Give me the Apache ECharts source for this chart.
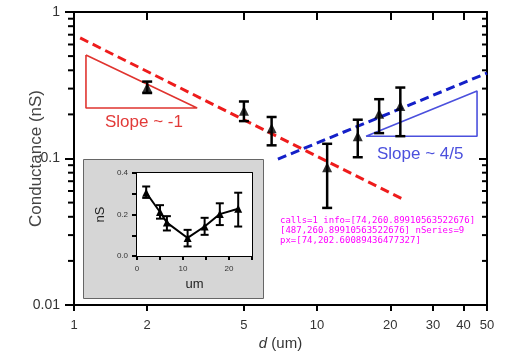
<!DOCTYPE html>
<html>
<head>
<meta charset="utf-8">
<script src="https://cdn.jsdelivr.net/npm/echarts@6/dist/echarts.min.js"></script>
<style>html,body{margin:0;padding:0;background:#fff;}#c{width:512px;height:361px;}#dbg{position:absolute;left:280px;top:215px;font:9px monospace;color:#f0f;width:200px;word-wrap:break-word;}</style>
</head>
<body>
<div id="c"></div>
<div id="dbg"></div>
<script>
var dbg = document.getElementById('dbg');
window.onerror = function(m){ dbg.textContent += ' ERR ' + m; };
// Data
var distances = [2, 5, 6.5, 11, 14.7, 18, 22];
var conductance = [0.305, 0.212, 0.161, 0.087, 0.142, 0.202, 0.228];
var errLow = [0.28, 0.18, 0.123, 0.046, 0.102, 0.149, 0.142];
var errHigh = [0.335, 0.245, 0.192, 0.126, 0.184, 0.254, 0.305];
var fitRed = [[1.06, 0.665], [22.4, 0.053]];
var fitBlue = [[6.9, 0.099], [50, 0.383]];
var triRed = [[1.12, 0.508], [1.12, 0.221], [3.21, 0.221], [1.12, 0.508]];
var triBlue = [[15.9, 0.142], [45.5, 0.142], [45.5, 0.289], [15.9, 0.142]];
var xTicksMain = [1, 2, 5, 10, 20, 30, 40, 50];
var xTicksTop = [2, 5, 10, 20, 30, 40];
var yMajor = [0.01, 0.1, 1];
var yMinor = [0.02,0.03,0.04,0.05,0.06,0.07,0.08,0.09,0.2,0.3,0.4,0.5,0.6,0.7,0.8,0.9];

var FONT = 'Liberation Sans, Arial, Helvetica, sans-serif';
var chart = echarts.init(document.getElementById('c'), null, {renderer: 'canvas'});

var mainPts = distances.map(function(d, i){ return [d, conductance[i]]; });
var errData = distances.map(function(d, i){ return [d, errLow[i], errHigh[i]]; });
var calls = 0, info = '';

function errRender(cap, lw){
  return function(params, api){
    var x = api.value(0);
    var lo = api.coord([x, api.value(1)]);
    var hi = api.coord([x, api.value(2)]);
    var st = {stroke: '#000', lineWidth: lw};
    return {type: 'group', children: [
      {type: 'line', shape: {x1: lo[0], y1: lo[1], x2: hi[0], y2: hi[1]}, style: st},
      {type: 'line', shape: {x1: lo[0]-cap, y1: lo[1], x2: lo[0]+cap, y2: lo[1]}, style: st},
      {type: 'line', shape: {x1: hi[0]-cap, y1: hi[1], x2: hi[0]+cap, y2: hi[1]}, style: st}
    ]};
  };
}
function minorTickRender(params, api){
  calls++;
  var kids = [];
  yMinor.forEach(function(v, i){
    var l = api.coord([xTicksMain[0], v]);
    var r = api.coord([xTicksMain[xTicksMain.length - 1], v]);
    if (i === 0) info = JSON.stringify(l) + JSON.stringify(r);
    kids.push({type: 'rect', shape: {x: l[0] - 6, y: l[1] - 1, width: 6, height: 2}, style: {fill: '#000'}});
    kids.push({type: 'rect', shape: {x: r[0] - 5, y: r[1] - 1, width: 5, height: 2}, style: {fill: '#000'}});
  });
  return {type: 'group', children: kids};
}

var axisLineBlack = {show: true, lineStyle: {color: '#000', width: 2}};

var option = {
  animation: false,
  backgroundColor: '#fff',
  grid: [
    {left: 74, top: 12, right: 25, bottom: 56, show: false, outerBoundsMode: 'none', containLabel: false},
    {left: 137, top: 173, width: 115, height: 83, show: true, backgroundColor: '#fff', borderWidth: 0, z: 1, outerBoundsMode: 'none', containLabel: false}
  ],
  graphic: [
    {type: 'rect', left: 83, top: 159, shape: {width: 180, height: 139}, style: {fill: '#d6d6d6', stroke: '#666', lineWidth: 1}, z: -1, silent: true},
    {type: 'text', left: 105, top: 114, style: {text: 'Slope ~ -1', fill: '#e23a38', font: '17px ' + FONT}},
    {type: 'text', left: 377, top: 146, style: {text: 'Slope ~ 4/5', fill: '#4b50dd', font: '17px ' + FONT}}
  ],
  xAxis: [
    {type: 'log', logBase: 10, gridIndex: 0, position: 'bottom', min: 1, max: 50,
     axisLine: axisLineBlack,
     axisTick: {show: true, inside: false, length: 6, customValues: xTicksMain, lineStyle: {color: '#000', width: 2}},
     axisLabel: {show: true, customValues: xTicksMain, margin: 14, color: '#333', fontSize: 13, fontFamily: FONT,
       formatter: function(v){ return String(Math.round(v)); }},
     splitLine: {show: false}, minorTick: {show: false},
     name: '{i|d} (um)', nameLocation: 'middle', nameGap: 31, nameMoveOverlap: false,
     nameTextStyle: {color: '#333', fontSize: 15, fontFamily: FONT, rich: {i: {fontStyle: 'italic', fontSize: 15, fontFamily: FONT, color: '#333'}}}},
    {type: 'log', logBase: 10, gridIndex: 0, position: 'top', min: 1, max: 50,
     axisLine: axisLineBlack,
     axisTick: {show: true, inside: true, length: 8, customValues: xTicksTop, lineStyle: {color: '#000', width: 2}},
     axisLabel: {show: false}, splitLine: {show: false}},
    {type: 'value', gridIndex: 1, position: 'bottom', min: 0, max: 25, interval: 5,
     axisLine: {show: true, onZero: false, lineStyle: {color: '#000', width: 2}},
     axisTick: {show: true, inside: false, length: 4, lineStyle: {color: '#000', width: 2}},
     axisLabel: {show: true, margin: 9, color: '#333', fontSize: 8, fontFamily: FONT,
       formatter: function(v){ return (v % 10 === 0 && v < 25) ? String(v) : ''; }},
     splitLine: {show: false},
     name: 'um', nameLocation: 'middle', nameGap: 22, nameMoveOverlap: false, nameTextStyle: {color: '#222', fontSize: 13, fontFamily: FONT}},
    {type: 'value', gridIndex: 1, position: 'top', min: 0, max: 25, interval: 5,
     axisLine: {show: true, onZero: false, lineStyle: {color: '#000', width: 2}},
     axisTick: {show: true, inside: true, length: 4, lineStyle: {color: '#000', width: 2}},
     axisLabel: {show: false}, splitLine: {show: false}}
  ],
  yAxis: [
    {type: 'log', logBase: 10, gridIndex: 0, position: 'left', min: 0.01, max: 1,
     axisLine: axisLineBlack,
     axisTick: {show: true, inside: false, length: 9, customValues: yMajor, lineStyle: {color: '#000', width: 2}},
     axisLabel: {show: true, customValues: yMajor, margin: 14, color: '#333', fontSize: 14, fontFamily: FONT,
       formatter: function(v){ return v >= 1 ? '1' : (v >= 0.1 ? '0.1' : '0.01'); }},
     splitLine: {show: false},
     name: 'Conductance (nS)', nameLocation: 'middle', nameGap: 29, nameMoveOverlap: false,
     nameTextStyle: {color: '#444', fontSize: 17, fontFamily: FONT}},
    {type: 'log', logBase: 10, gridIndex: 0, position: 'right', min: 0.01, max: 1,
     axisLine: axisLineBlack,
     axisTick: {show: true, inside: true, length: 8, customValues: yMajor, lineStyle: {color: '#000', width: 2}},
     axisLabel: {show: false}, splitLine: {show: false}},
    {type: 'value', gridIndex: 1, position: 'left', min: 0, max: 0.4, interval: 0.1,
     axisLine: {show: true, onZero: false, lineStyle: {color: '#000', width: 2}},
     axisTick: {show: true, inside: false, length: 5, lineStyle: {color: '#000', width: 2}},
     axisLabel: {show: true, margin: 9, color: '#333', fontSize: 8, fontFamily: FONT,
       formatter: function(v){ var k = Math.round(v*10); return (k % 2 === 0) ? v.toFixed(1) : ''; }},
     splitLine: {show: false},
     name: 'nS', nameLocation: 'middle', nameGap: 30, nameMoveOverlap: false, nameTextStyle: {color: '#222', fontSize: 13, fontFamily: FONT}},
    {type: 'value', gridIndex: 1, position: 'right', min: 0, max: 0.4, interval: 0.1,
     axisLine: {show: true, onZero: false, lineStyle: {color: '#000', width: 2}},
     axisTick: {show: true, inside: true, length: 4, lineStyle: {color: '#000', width: 2}},
     axisLabel: {show: false}, splitLine: {show: false}}
  ],
  series: [
    {type: 'line', xAxisIndex: 0, yAxisIndex: 0, data: triRed, showSymbol: false, symbol: 'none',
     lineStyle: {color: '#e0342f', width: 1.6}, z: 2},
    {type: 'line', xAxisIndex: 0, yAxisIndex: 0, data: triBlue, showSymbol: false, symbol: 'none',
     lineStyle: {color: '#4b50dd', width: 1.6}, z: 2},
    {type: 'line', xAxisIndex: 0, yAxisIndex: 0, data: fitRed, showSymbol: false, symbol: 'none',
     lineStyle: {color: '#ee1c1c', width: 3, type: [9, 5]}, z: 3},
    {type: 'line', xAxisIndex: 0, yAxisIndex: 0, data: fitBlue, showSymbol: false, symbol: 'none',
     lineStyle: {color: '#1420c8', width: 3, type: [9, 5]}, z: 3},
    {type: 'custom', xAxisIndex: 0, yAxisIndex: 0, data: errData, renderItem: errRender(5, 2.5), z: 4},
    {type: 'scatter', xAxisIndex: 0, yAxisIndex: 0, data: mainPts, symbol: 'triangle', symbolSize: [10, 10],
     itemStyle: {color: '#000'}, z: 5},
    {type: 'custom', xAxisIndex: 0, yAxisIndex: 0, data: [[10, 0.1]], renderItem: minorTickRender, clip: false, z: 4},
    {type: 'custom', xAxisIndex: 2, yAxisIndex: 2, data: errData, renderItem: errRender(4, 2), z: 4},
    {type: 'line', xAxisIndex: 2, yAxisIndex: 2, data: mainPts, symbol: 'triangle', symbolSize: [8, 8],
     itemStyle: {color: '#000'}, lineStyle: {color: '#000', width: 2}, z: 5}
  ]
};
try { chart.setOption(option); } catch (e) { dbg.textContent += ' EXC ' + e.message; }
dbg.textContent += ' calls=' + calls + ' info=' + info + ' nSeries=' + chart.getModel().getSeriesCount();
try { dbg.textContent += ' px=' + JSON.stringify(chart.convertToPixel({xAxisIndex:0, yAxisIndex:0}, [1, 0.05])); } catch (e) { dbg.textContent += ' EXC3 ' + e.message; }
</script>
</body>
</html>
